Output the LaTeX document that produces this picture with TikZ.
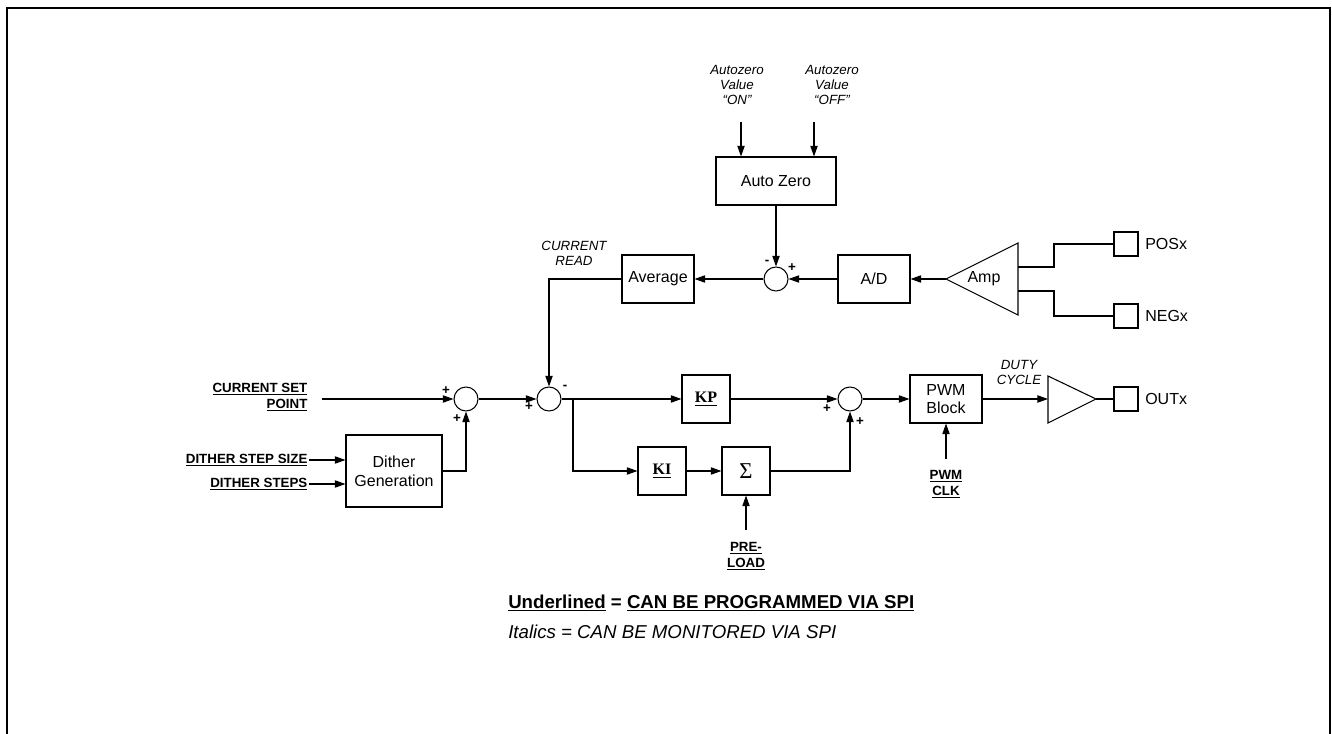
\documentclass[tikz,border=0pt]{standalone}
\usepackage{fontspec}
\setmainfont{Liberation Sans}
\newfontfamily\timesfont{Liberation Serif}
\usetikzlibrary{arrows.meta,calc}

\tikzset{
  blk/.style={draw, line width=0.8pt, minimum width=#1, minimum height=36pt,
    inner sep=1pt, align=center, font=\fontsize{12}{13.5}\selectfont},
  blk/.default=54pt,
  kfont/.style={font=\fontsize{12}{14}\timesfont\bfseries},
  sumc/.style={draw, circle, line width=0.8pt, minimum size=18pt, inner sep=0pt},
  pad/.style={draw, line width=0.8pt, minimum size=18pt, inner sep=0pt},
  padlbl/.style={anchor=west, inner sep=0pt, font=\fontsize{12}{14}\selectfont},
  prog/.style={font=\fontsize{10}{12}\selectfont\bfseries, inner sep=1pt},
  mon/.style={font=\fontsize{10}{11.25}\selectfont\itshape, align=center, inner sep=1pt},
  sgn/.style={font=\fontsize{10}{10}\selectfont\bfseries, inner sep=0pt},
  sig/.style={-{Triangle[length=8pt,width=5.5pt]}, line width=0.8pt},
  wire/.style={line width=0.8pt},
}

\begin{document}
\begin{tikzpicture}[x=0.75pt,y=-0.75pt]
  \useasboundingbox (0,0) rectangle (1332,734);
  % frame, open at the bottom
  \draw[line width=1.5pt] (7,734) -- (7,8) -- (1330,8) -- (1330,734);

  % auto zero and its two inputs
  \node[mon] (aon) at (737,85) {Autozero\\Value\\“ON”};
  \node[mon] (aoff) at (832,85) {Autozero\\Value\\“OFF”};
  \coordinate (onin) at (741,122);
  \coordinate (offin) at (814,122);
  \node[blk=90pt] (az) at (776,181) {Auto Zero};
  \draw[sig] (onin) -- (onin |- az.north);
  \draw[sig] (offin) -- (offin |- az.north);

  % feedback path: amp -> A/D -> sum -> average
  \node[sumc] (fb) at (776,279) {};
  \node[sgn] (fbm) at (767,262) {-};
  \node[sgn] (fbp) at (792,268) {+};
  \node[blk] (avg) at (658,279) {Average};
  \node[blk] (adc) at (874,279) {A/D};
  \draw[wire] (946,279) coordinate (amp) -- (1018,243) -- (1018,315) -- cycle;
  \node[font=\fontsize{12}{14}\selectfont] (amplbl) at (984,279) {Amp};
  \coordinate (ampp) at (1018,267);
  \coordinate (ampn) at (1018,291);
  \node[pad] (pos) at (1126,244) {};
  \node[pad] (neg) at (1126,316) {};
  \node[padlbl] (poslbl) at (1145,244) {POSx};
  \node[padlbl] (neglbl) at (1145,316) {NEGx};
  \draw[wire] (ampp) -- (1054,267) |- (pos.west);
  \draw[wire] (ampn) -- (1054,291) |- (neg.west);
  \draw[sig] (amp) -- (adc.east);
  \draw[sig] (adc.west) -- (fb.east);
  \draw[sig] (az.south) -- (fb.north);
  \draw[sig] (fb.west) -- (avg.east);
  \node[mon] (cread) at (574,253) {CURRENT\\READ};

  % forward path
  \coordinate (spin) at (322,399);
  \node[prog, align=right, anchor=east] (csp) at (309,397)
    {\underline{CURRENT SET}\\\underline{POINT}};
  \node[sumc] (s1) at (466,399) {};
  \node[sgn] (s1a) at (446,391) {+};
  \node[sgn] (s1b) at (457,419) {+};
  \node[sumc] (s2) at (549,399) {};
  \node[sgn] (s2a) at (529,407) {+};
  \node[sgn] (s2b) at (565,387) {-};
  \node[blk=36pt, kfont] (kp) at (706,399) {\underline{KP}};
  \node[blk=36pt, kfont] (ki) at (662,471) {\underline{KI}};
  \node[blk=36pt, font=\fontsize{17}{18}\timesfont] (acc) at (746,471) {Σ};
  \node[sumc] (s3) at (850,399) {};
  \node[sgn] (s3a) at (827,409) {+};
  \node[sgn] (s3b) at (860,422) {+};
  \node[blk] (pwm) at (946,399) {PWM\\Block};
  \draw[wire] (1048,376) -- (1096,399) coordinate (buf) -- (1048,423) -- cycle;
  \coordinate (bufin) at (1048,399);
  \node[pad] (out) at (1126,399) {};
  \node[padlbl] (outlbl) at (1145,399) {OUTx};
  \node[mon] (duty) at (1019,372) {DUTY\\CYCLE};

  % dither
  \node[blk=72pt, minimum height=54pt, font=\fontsize{12}{14.3}\selectfont] (dith) at (394,471) {Dither\\Generation};
  \node[prog, anchor=east] (dss) at (309,460) {\underline{DITHER STEP SIZE}};
  \node[prog, anchor=east] (dst) at (309,484) {\underline{DITHER STEPS}};
  \draw[sig] (dss.east) -- (dss.east -| dith.west);
  \draw[sig] (dst.east) -- (dst.east -| dith.west);

  % connections
  \draw[sig] (spin) -- (s1.west);
  \draw[sig] (dith.east) -| (s1.south);
  \draw[sig] (s1.east) -- (s2.west);
  \draw[sig] (avg.west) -| (s2.north);
  \draw[sig] (s2.east) -- (kp.west);
  \coordinate (br) at (573,399);
  \draw[sig] (br) |- (ki.west);
  \draw[sig] (ki.east) -- (acc.west);
  \draw[sig] (acc.east) -| (s3.south);
  \draw[sig] (kp.east) -- (s3.west);
  \draw[sig] (s3.east) -- (pwm.west);
  \draw[sig] (pwm.east) -- (bufin);
  \draw[wire] (buf) -- (out.west);

  % pre-load and pwm clock
  \coordinate (prein) at (746,530);
  \node[prog, align=center] (pre) at (746,556) {\underline{PRE-}\\\underline{LOAD}};
  \draw[sig] (prein) -- (acc.south);
  \coordinate (clkin) at (946,459);
  \node[prog, align=center] (clk) at (946,484) {\underline{PWM}\\\underline{CLK}};
  \draw[sig] (clkin) -- (pwm.south);

  % legend
  \node[anchor=west, inner sep=0pt, font=\fontsize{14}{16}\selectfont\bfseries] (legu) at (508,603)
    {\underline{Underlined} = \underline{CAN BE PROGRAMMED VIA SPI}};
  \node[anchor=west, inner sep=0pt, font=\fontsize{14}{16}\selectfont\itshape] (legi) at (508,632)
    {Italics = CAN BE MONITORED VIA SPI};
\end{tikzpicture}
\end{document}
